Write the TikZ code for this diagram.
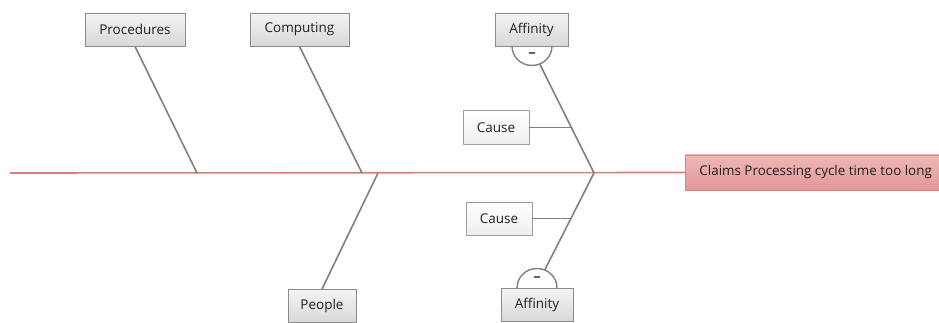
\documentclass[tikz,border=0pt]{standalone}
\usepackage{fontspec}
\setmainfont{Open Sans}
\usetikzlibrary{calc}
\definecolor{bone}{HTML}{808080}
\definecolor{spine}{HTML}{E07A7A}
\definecolor{boxline}{HTML}{8C8C8C}
\definecolor{boxtop}{HTML}{F4F4F4}
\definecolor{boxbot}{HTML}{D8D8D8}
\definecolor{headtop}{HTML}{EFB6B6}
\definecolor{headbot}{HTML}{E29898}
\definecolor{headline}{HTML}{D98282}
\definecolor{txt}{HTML}{202020}
\tikzset{
  catbox/.style={draw=boxline, line width=0.9pt, top color=boxtop, bottom color=boxbot,
    minimum height=33pt, inner sep=0pt, font=\fontsize{13.5}{15}\selectfont, text=txt},
  causebox/.style={draw=boxline!85, line width=0.9pt, top color=white, bottom color=boxtop!80!boxbot,
    minimum height=34pt, minimum width=66pt, inner sep=0pt, font=\fontsize{13.5}{15}\selectfont, text=txt},
  headbox/.style={draw=headline, line width=0.9pt, top color=headtop, bottom color=headbot,
    minimum height=35pt, inner xsep=14pt, inner ysep=0pt, anchor=west,
    font=\fontsize{13.4}{15}\selectfont, text=txt},
  bonel/.style={draw=bone, line width=1.6pt},
  spinel/.style={draw=spine, line width=1.6pt},
  cup/.style={draw=bone, line width=1.4pt},
  minus/.style={font=\fontsize{15}{15}\selectfont\bfseries, text=txt!80, inner sep=0pt}
}
\begin{document}
\begin{tikzpicture}[x=1pt,y=-1pt]
\useasboundingbox (0,0) rectangle (939,323);
% head and spine
\node[headbox] (head) at (685,172.5) {Claims Processing cycle time too long};
\coordinate (tail) at (10,173);
\draw[spinel] (tail) -- (head.west);
% category boxes
\node[catbox, minimum width=100pt] (proc) at (135,29.5) {Procedures};
\node[catbox, minimum width=99pt] (comp) at (299.5,29.5) {Computing};
\node[catbox, minimum width=68pt] (people) at (322,306) {People};
\node[catbox, minimum width=73pt] (afft) at (531.5,29.5) {Affinity};
\node[catbox, minimum width=72pt] (affb) at (537,305) {Affinity};
% spine joints
\coordinate (jproc) at (197,173);
\coordinate (jcomp) at (362,173);
\coordinate (jpeople) at (378,173);
\coordinate (jaff) at (594,173);
% bones
\draw[bonel] (proc.south) -- (jproc);
\draw[bonel] (comp.south) -- (jcomp);
\draw[bonel] (people.north) -- (jpeople);
% affinity cups
\draw[cup] (512,46) .. controls (512,57) and (521,65.5) .. (532,65.5) .. controls (543,65.5) and (552,57) .. (552,46);
\node[minus] (mt) at (532,55) {–};
\draw[cup] (517,288) .. controls (517,277) and (526,268.5) .. (537,268.5) .. controls (548,268.5) and (557,277) .. (557,288);
\node[minus] (mb) at (537,279) {–};
\coordinate (cupt) at (540,64.5);
\coordinate (cupb) at (545,269.5);
\draw[bonel] (cupt) -- (jaff);
\draw[bonel] (cupb) -- (jaff);
% causes
\node[causebox] (ct) at (496,127.5) {Cause};
\node[causebox, minimum height=33pt] (cb) at (499,218.5) {Cause};
\coordinate (kt) at ($(cupt)!0.574!(jaff)$);
\coordinate (kb) at ($(jaff)!0.464!(cupb)$);
\draw[bonel] (ct.east) -- (ct.east -| kt);
\draw[bonel] (cb.east) -- (cb.east -| kb);
\end{tikzpicture}
\end{document}
